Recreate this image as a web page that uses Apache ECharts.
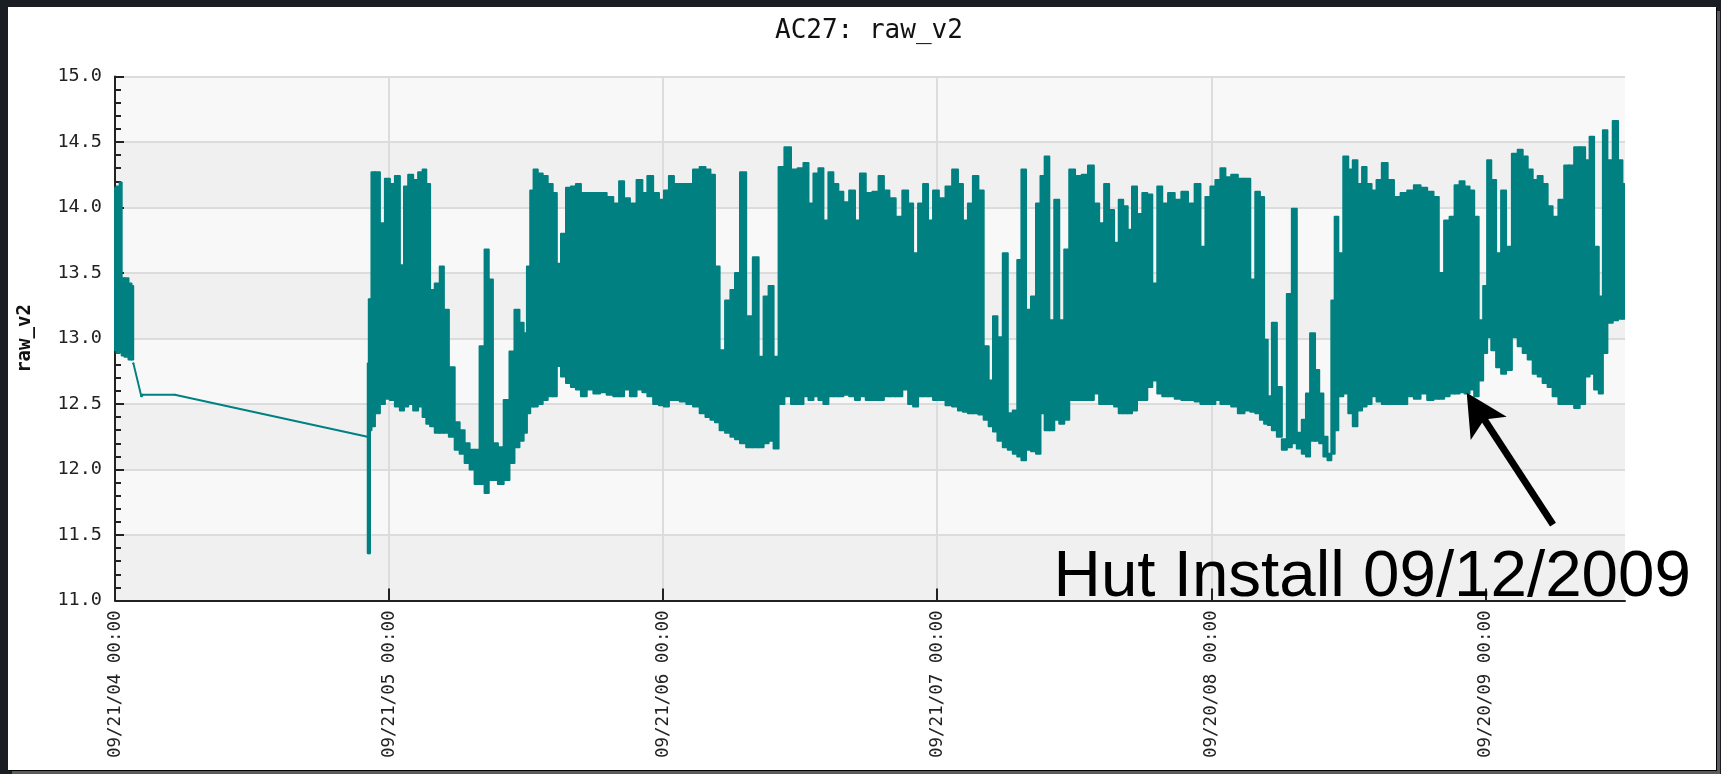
<!DOCTYPE html>
<html>
<head>
<meta charset="utf-8">
<script src="https://cdn.jsdelivr.net/npm/echarts@6/dist/echarts.min.js"></script>
<style>
html,body{margin:0;padding:0;width:1721px;height:774px;overflow:hidden;background:#1a1d21;}
#chart{position:absolute;left:8px;top:7px;width:1708px;height:763px;background:#fff;
  box-shadow:1px 1px 0 #000, 4px 4px 0 #5b5b5b;}
</style>
</head>
<body>
<div id="chart"></div>
<script>
// x = days since 2004-09-21 00:00 ; ticks yearly
const tickDays = [0, 365, 730, 1095, 1460, 1825];
const tickLabels = ['09/21/04 00:00', '09/21/05 00:00', '09/21/06 00:00', '09/21/07 00:00', '09/20/08 00:00', '09/20/09 00:00'];

const sampleDays = [
  0, 4, 8.5, 9.3, 16, 20, 24, 24.5, 35, 37, 79.6, 336.2, 337, 339, 340.2,
  342.9, 349.5, 356.1, 362.8, 369.4, 376.1, 382.7, 387.1, 393.8, 400.4, 407.0, 412.3, 416.8, 422.5, 429.2, 435.8, 440.2, 449.1, 455.7, 462.3, 469.0, 475.6, 482.2, 488.9, 495.5, 500.0, 506.6, 513.3,
  522.0, 528.7, 535.3, 542.0, 546.4, 550.8, 555.2, 559.7, 566.3, 572.9, 579.6, 586.2, 590.6, 597.3, 603.9, 610.5, 617.2, 623.8, 632.7, 641.5, 650.4, 659.2, 668.0, 674.7, 681.3, 690.2, 699.0, 705.7, 712.3, 721.1, 727.8, 734.4, 741.0, 747.7, 756.5, 765.4, 774.2, 783.1, 789.7, 796.3, 801.7, 808.7, 816.3, 822.9, 828.6, 836.2, 845.0, 853.9, 860.5, 867.1, 873.8, 880.4, 887.1, 895.9, 904.7, 913.6,
  920.2, 926.9, 933.5, 940.1, 946.8, 953.4, 960.0, 966.7, 973.3, 982.2, 988.8, 995.4, 1004.3, 1013.1, 1020.7, 1027.3, 1035.3, 1044.1, 1053.0, 1059.6, 1066.2, 1072.9, 1079.5, 1086.1, 1092.8, 1101.6, 1110.5, 1119.3, 1126.0, 1132.6, 1139.2, 1145.9, 1153.8, 1160.0, 1167.1, 1171.5, 1179.0, 1185.7, 1192.3, 1199.0, 1204.3, 1210.0, 1216.6, 1223.3, 1229.9, 1235.2, 1241.0, 1247.6, 1254.2, 1260.9, 1267.5, 1274.2, 1283.0, 1291.9, 1299.8, 1307.4, 1314.0, 1320.6, 1327.3, 1333.9, 1339.6, 1345.8, 1351.6, 1357.3, 1364.9, 1371.5, 1378.1, 1384.8, 1391.4, 1398.0, 1406.9, 1415.7, 1424.6, 1433.4, 1442.3,
  1448.9, 1455.5, 1462.2, 1468.8, 1475.5, 1482.1, 1491.0, 1499.8, 1508.6, 1515.3, 1521.9, 1527.7, 1533.0, 1537.4, 1544.0, 1550.7, 1557.3, 1564.0, 1570.6, 1577.2, 1583.9, 1588.3, 1594.9, 1601.5, 1606.0, 1612.6, 1617.0, 1622.8, 1625.9, 1632.5, 1639.1, 1645.8, 1651.1, 1658.2, 1663.5, 1670.1, 1676.8, 1683.4, 1690.9, 1698.9, 1707.7, 1716.6, 1725.4, 1734.3, 1743.1, 1752.0, 1759.9, 1766.1, 1774.1, 1780.7, 1787.4, 1794.0, 1800.6, 1807.3, 1813.0, 1819.2, 1825.0, 1829.8, 1836.0, 1842.7, 1849.3, 1855.9, 1864.8, 1871.4, 1878.1, 1884.7, 1891.4, 1898.0, 1904.6, 1911.3, 1917.9, 1926.7, 1933.4, 1940.0, 1946.6, 1954.6, 1961.2, 1966.5, 1973.2, 1978.9, 1984.2, 1990.9, 1998.4, 2005.1, 2010.0
];

const upperV2 = [
  14.15, 14.16, 14.19, 13.46, 13.46, 13.42, 13.40, 12.81, 12.56, 12.57, 12.57, 12.25, 12.81, 13.30, 13.30,
  14.27, 14.27, 13.88, 14.22, 14.18, 14.24, 13.56, 14.16, 14.25, 14.21, 14.27, 14.29, 14.18, 13.37, 13.42, 13.55, 13.22, 12.78, 12.36, 12.30, 12.20, 12.15, 12.15, 12.94, 13.68, 13.45, 12.20, 12.17,
  12.53, 12.90, 13.22, 13.12, 13.04, 13.55, 14.13, 14.29, 14.26, 14.24, 14.18, 14.11, 13.57, 13.80, 14.15, 14.16, 14.18, 14.11, 14.11, 14.11, 14.11, 14.08, 14.03, 14.20, 14.07, 14.03, 14.21, 14.11, 14.24, 14.11, 14.06, 14.13, 14.24, 14.18, 14.18, 14.18, 14.29, 14.31, 14.29, 14.25, 13.55, 12.91, 13.29, 13.37, 13.50, 14.27, 13.17, 13.62, 12.86, 13.32, 13.40, 12.86, 14.31, 14.46, 14.29, 14.30,
  14.34, 14.03, 14.26, 14.30, 13.90, 14.27, 14.18, 14.12, 14.04, 14.13, 13.90, 14.26, 14.11, 14.12, 14.24, 14.13, 14.07, 13.93, 14.13, 14.03, 13.65, 14.03, 14.18, 13.90, 14.13, 14.07, 14.16, 14.29, 14.18, 13.90, 14.03, 14.24, 14.13, 12.94, 12.68, 13.17, 13.01, 13.65, 12.43, 12.45, 13.60, 14.29, 13.22, 13.32, 14.03, 14.24, 14.39, 13.14, 14.06, 13.14, 13.68, 14.29, 14.24, 14.25, 14.32, 14.03, 13.88, 14.18, 13.98, 13.73, 14.06, 14.01, 13.83, 14.16, 13.95, 14.11, 14.10, 13.42, 14.16, 14.03, 14.11, 14.06, 14.12, 14.03, 14.18,
  13.70, 14.08, 14.16, 14.21, 14.30, 14.23, 14.25, 14.22, 14.22, 13.45, 14.12, 14.08, 12.99, 12.56, 13.12, 12.63, 12.23, 13.34, 13.99, 12.28, 12.38, 12.58, 13.04, 12.76, 12.58, 12.25, 12.12, 13.29, 13.93, 13.65, 14.39, 14.29, 14.36, 14.18, 14.31, 14.18, 14.13, 14.21, 14.34, 14.21, 14.08, 14.11, 14.13, 14.17, 14.15, 14.12, 14.08, 13.50, 13.90, 13.93, 14.17, 14.20, 14.16, 14.13, 13.93, 13.14, 13.40, 14.36, 14.21, 13.65, 14.13, 13.70, 14.41, 14.44, 14.39, 14.29, 14.21, 14.24, 14.18, 14.01, 13.93, 14.06, 14.32, 14.32, 14.46, 14.46, 14.36, 14.54, 13.70, 13.32, 14.59, 14.36, 14.66, 14.36, 14.18
];

const lowerV2 = [
  12.91, 12.89, 12.90, 12.87, 12.86, 12.84, 12.84, 12.81, 12.56, 12.57, 12.57, 12.25, 11.36, 11.36, 12.30,
  12.33, 12.43, 12.50, 12.54, 12.53, 12.48, 12.45, 12.48, 12.50, 12.45, 12.48, 12.40, 12.35, 12.33, 12.28, 12.28, 12.28, 12.25, 12.15, 12.12, 12.05, 12.00, 11.89, 11.89, 11.82, 11.92, 11.92, 11.89,
  11.92, 12.05, 12.17, 12.22, 12.28, 12.43, 12.48, 12.48, 12.50, 12.53, 12.56, 12.56, 12.79, 12.71, 12.66, 12.63, 12.61, 12.56, 12.61, 12.58, 12.59, 12.57, 12.56, 12.56, 12.61, 12.56, 12.61, 12.59, 12.56, 12.50, 12.49, 12.48, 12.53, 12.53, 12.52, 12.50, 12.48, 12.43, 12.40, 12.38, 12.36, 12.30, 12.28, 12.25, 12.23, 12.20, 12.17, 12.17, 12.17, 12.20, 12.22, 12.16, 12.50, 12.56, 12.50, 12.50,
  12.56, 12.53, 12.56, 12.53, 12.50, 12.56, 12.56, 12.56, 12.57, 12.56, 12.53, 12.56, 12.53, 12.53, 12.53, 12.56, 12.56, 12.56, 12.61, 12.50, 12.48, 12.56, 12.56, 12.56, 12.53, 12.53, 12.49, 12.48, 12.45, 12.44, 12.43, 12.43, 12.42, 12.38, 12.33, 12.29, 12.22, 12.17, 12.15, 12.12, 12.10, 12.07, 12.15, 12.14, 12.12, 12.43, 12.30, 12.30, 12.38, 12.35, 12.38, 12.53, 12.53, 12.53, 12.53, 12.58, 12.50, 12.50, 12.50, 12.48, 12.43, 12.43, 12.43, 12.45, 12.53, 12.53, 12.63, 12.68, 12.58, 12.56, 12.56, 12.54, 12.53, 12.53, 12.52,
  12.50, 12.50, 12.50, 12.53, 12.50, 12.50, 12.48, 12.43, 12.45, 12.44, 12.43, 12.38, 12.35, 12.34, 12.30, 12.25, 12.15, 12.17, 12.20, 12.16, 12.12, 12.10, 12.22, 12.22, 12.20, 12.10, 12.07, 12.12, 12.30, 12.56, 12.58, 12.43, 12.33, 12.45, 12.48, 12.50, 12.56, 12.52, 12.50, 12.50, 12.50, 12.50, 12.56, 12.54, 12.58, 12.53, 12.54, 12.54, 12.56, 12.58, 12.58, 12.59, 12.58, 12.61, 12.56, 12.68, 12.89, 13.01, 12.91, 12.78, 12.73, 12.76, 13.01, 12.94, 12.89, 12.84, 12.73, 12.71, 12.66, 12.63, 12.56, 12.50, 12.50, 12.50, 12.47, 12.50, 12.71, 12.73, 12.61, 12.58, 12.89, 13.12, 13.14, 13.15, 13.15
];

const TEAL = '#008080';
const monoFont = '"DejaVu Sans Mono", monospace';
const STEP_GAP = 10; // samples closer than this (days) are drawn as dense vertical strokes

const bandData = sampleDays.map((d, i) => [d, upperV2[i], lowerV2[i]]);

function renderBand(params, api) {
  const i = params.dataIndex;
  const n = sampleDays.length;
  const d = sampleDays[i];
  const prevGap = i > 0 ? d - sampleDays[i - 1] : 0;
  const nextGap = i < n - 1 ? sampleDays[i + 1] - d : 0;
  const x0 = (prevGap > 0 && prevGap <= STEP_GAP) ? d - prevGap / 2 : d;
  const x1 = (nextGap > 0 && nextGap <= STEP_GAP) ? d + nextGap / 2 : d;
  const style = {fill: TEAL, stroke: TEAL, lineWidth: 2, lineJoin: 'round'};
  const children = [{
    type: 'polygon',
    shape: {points: [
      api.coord([x0, upperV2[i]]), api.coord([x1, upperV2[i]]),
      api.coord([x1, lowerV2[i]]), api.coord([x0, lowerV2[i]])
    ]},
    style: style
  }];
  if (nextGap > STEP_GAP) {
    children.push({
      type: 'polygon',
      shape: {points: [
        api.coord([d, upperV2[i]]), api.coord([sampleDays[i + 1], upperV2[i + 1]]),
        api.coord([sampleDays[i + 1], lowerV2[i + 1]]), api.coord([d, lowerV2[i]])
      ]},
      style: style
    });
  }
  return {type: 'group', children: children};
}

const chart = echarts.init(document.getElementById('chart'), null, {renderer: 'canvas'});
chart.setOption({
  animation: false,
  backgroundColor: '#ffffff',
  title: {
    text: 'AC27: raw_v2',
    left: 762, top: 6,
    textStyle: {fontFamily: monoFont, fontSize: 26, fontWeight: 'normal', color: '#111'}
  },
  grid: {left: 102, right: 91, top: 69.5, bottom: 169.5, containLabel: false},
  xAxis: {
    type: 'value', min: 0, max: 2011, interval: 365,
    axisLine: {show: true, onZero: false, lineStyle: {color: '#222', width: 2}},
    axisTick: {show: true, inside: true, length: 12, lineStyle: {color: '#222', width: 2}, customValues: tickDays},
    axisLabel: {
      rotate: 90, margin: 10, fontFamily: monoFont, fontSize: 17.5, color: '#222',
      customValues: tickDays,
      formatter: v => { const k = tickDays.indexOf(v); return k >= 0 ? tickLabels[k] : ''; }
    },
    splitLine: {show: true, showMinLine: false, showMaxLine: false, lineStyle: {color: '#dcdcdc', width: 2}}
  },
  yAxis: {
    type: 'value', min: 11, max: 15, interval: 0.5,
    name: 'raw_v2', nameLocation: 'middle', nameRotate: 90, nameGap: 80,
    nameTextStyle: {fontFamily: monoFont, fontSize: 19, fontWeight: 'bold', color: '#111'},
    axisLine: {show: true, lineStyle: {color: '#222', width: 2}},
    axisTick: {show: true, inside: true, length: 9, lineStyle: {color: '#222', width: 2}},
    minorTick: {show: true, splitNumber: 5, length: 6, lineStyle: {color: '#222', width: 2}},
    axisLabel: {margin: 13, fontFamily: monoFont, fontSize: 18.5, color: '#222', formatter: v => v.toFixed(1)},
    splitLine: {show: true, lineStyle: {color: '#dcdcdc', width: 2}},
    splitArea: {show: true, areaStyle: {color: ['#f0f0f0', '#f8f8f8']}}
  },
  series: [
    {
      name: 'raw_v2', type: 'custom', data: bandData,
      encode: {x: 0, y: [1, 2]},
      renderItem: renderBand, clip: true, z: 3
    }
  ],
  graphic: [
    {
      type: 'text', x: 1045.6, y: 570.5, z: 100,
      style: {text: 'Hut Install 09/12/2009', fontFamily: '"Liberation Sans", Arial, sans-serif', fontSize: 65.5, fill: '#000', verticalAlign: 'middle', align: 'left'}
    },
    {
      type: 'line', z: 100,
      shape: {x1: 1545, y1: 517.6, x2: 1474, y2: 409},
      style: {stroke: '#000', lineWidth: 7}
    },
    {
      type: 'polygon', z: 100,
      shape: {points: [[1458.7, 385.7], [1462.7, 433], [1476.2, 412.5], [1498.7, 409.7]]},
      style: {fill: '#000'}
    }
  ]
});
</script>
</body>
</html>
